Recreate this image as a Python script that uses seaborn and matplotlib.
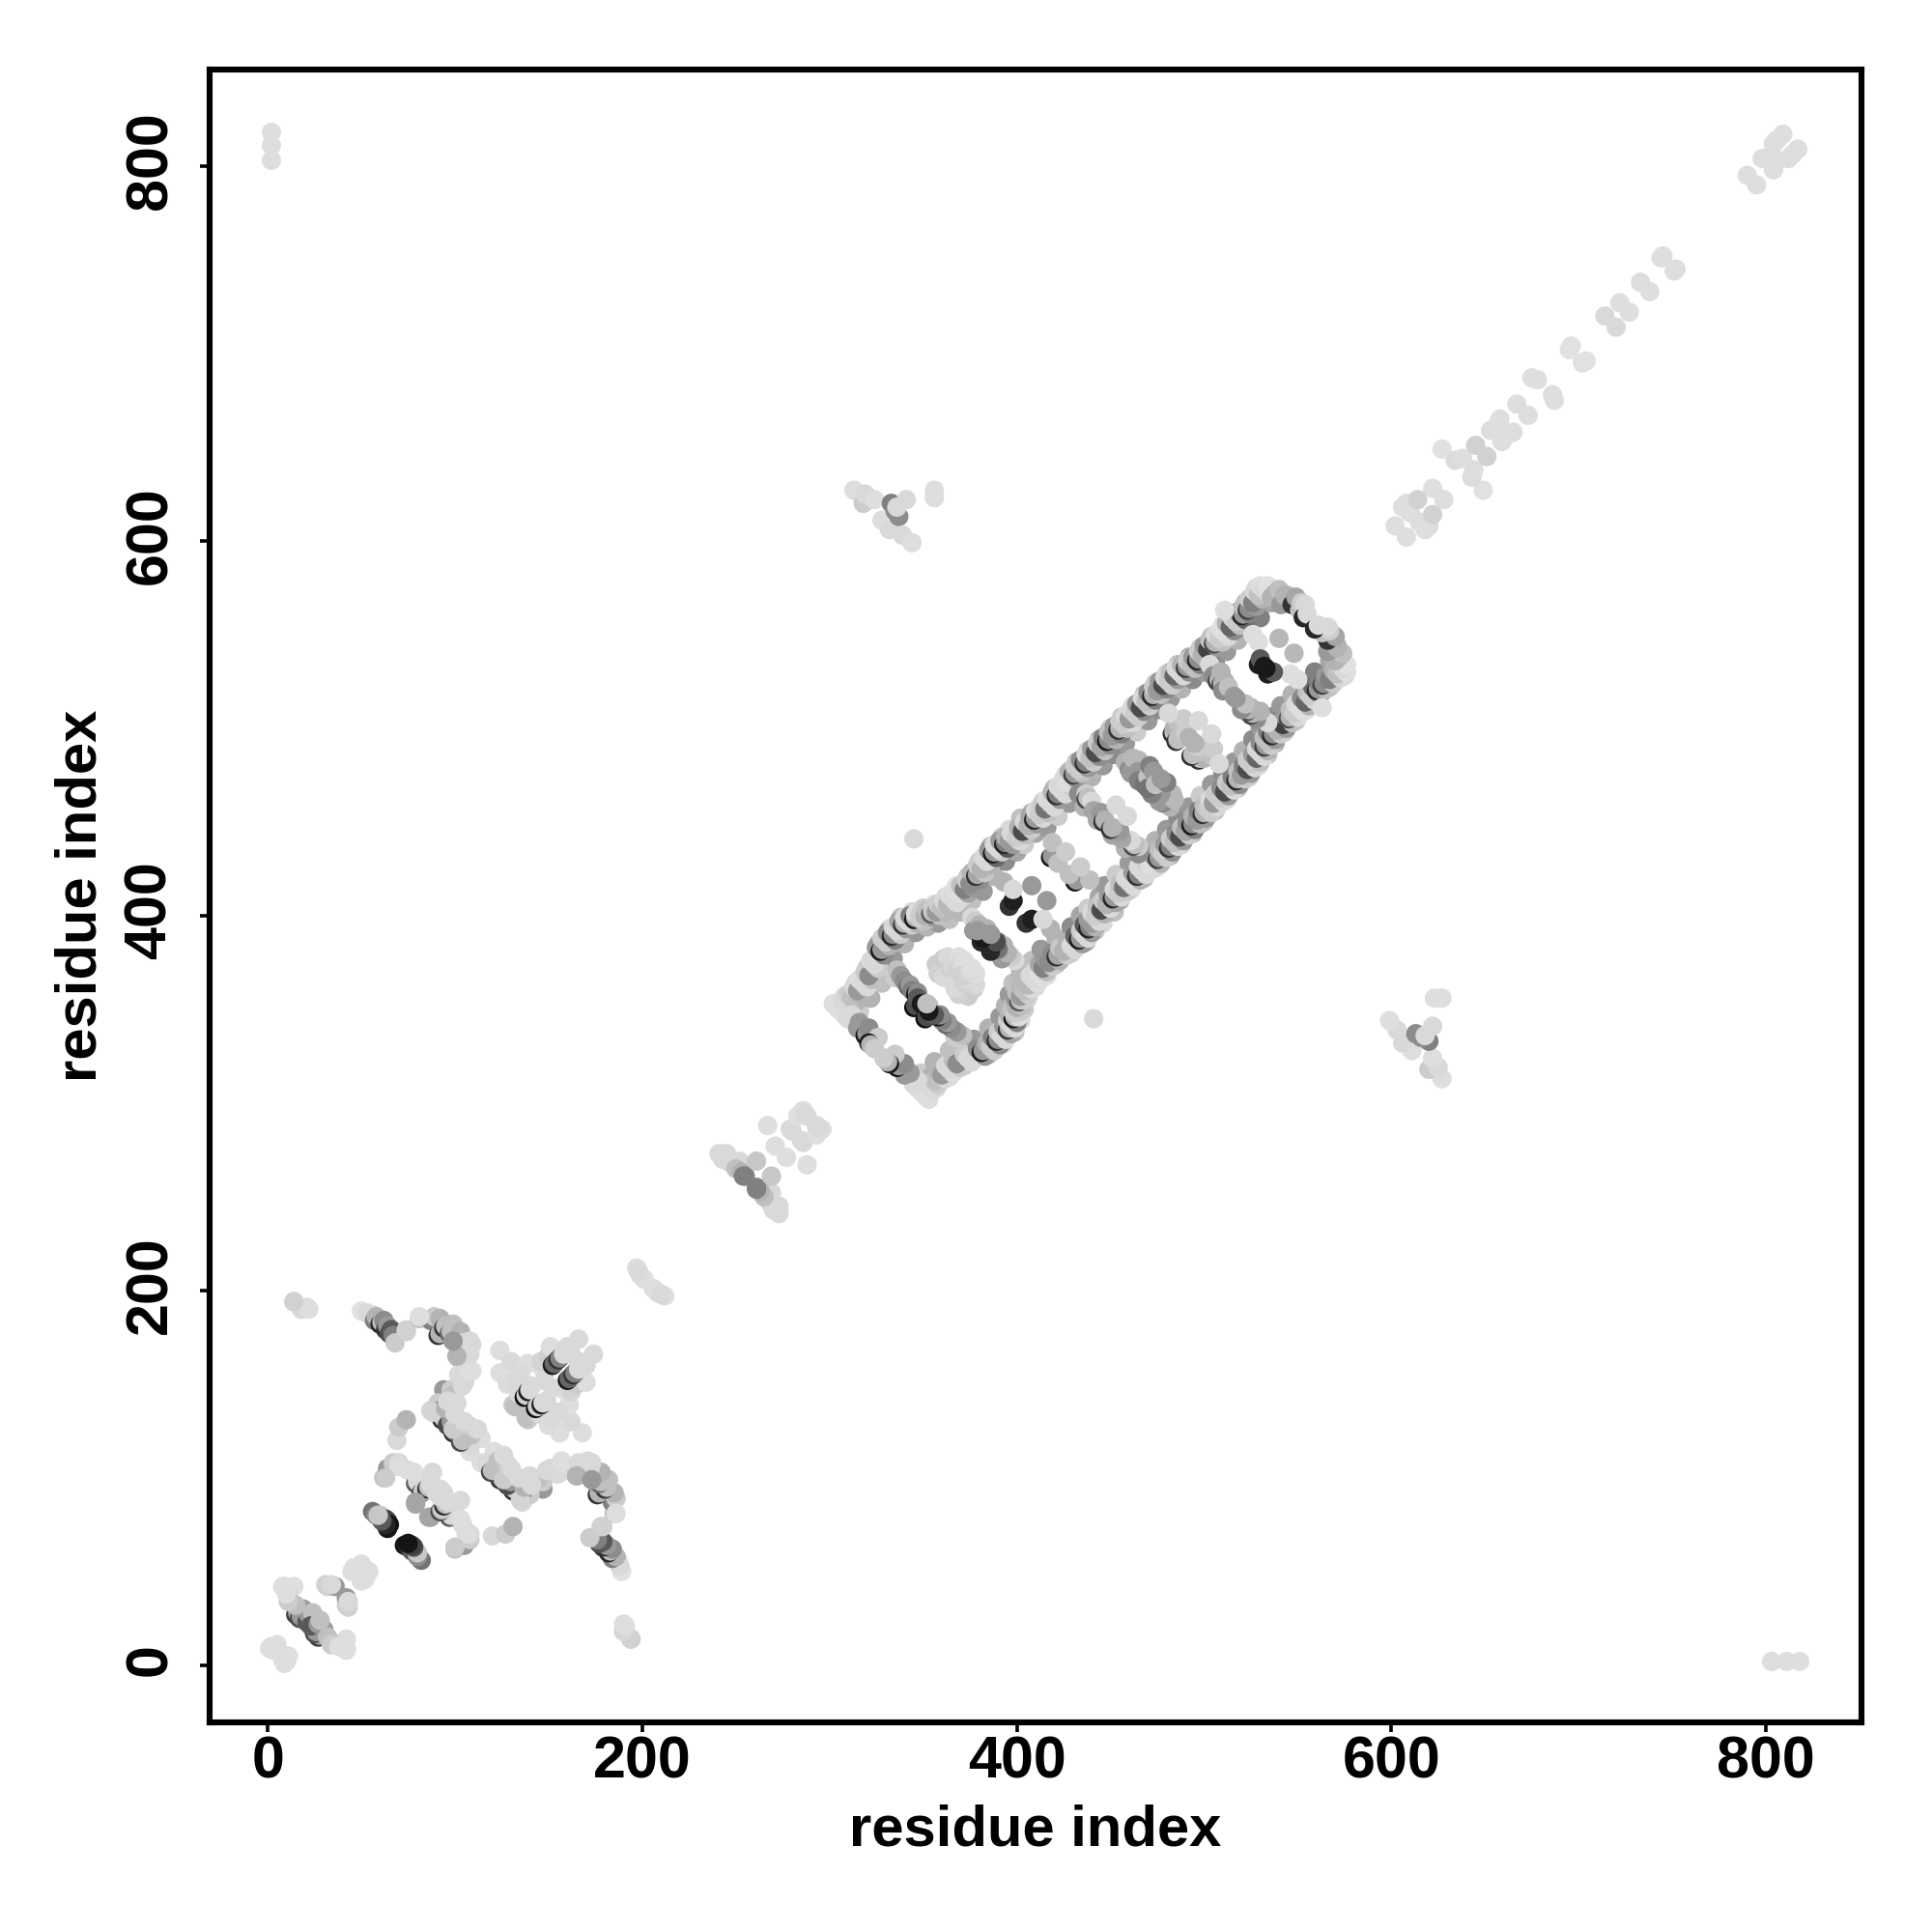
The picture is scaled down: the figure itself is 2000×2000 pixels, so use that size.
import matplotlib
matplotlib.use("Agg")

import pandas as pd
import matplotlib.pyplot as plt
import seaborn as sns
from matplotlib.transforms import ScaledTranslation

# =====================
# CONTACTS (residue i, residue j, grey level) - map is symmetric, i < j only
# =====================
corner = [(2, 803, .87), (2, 811, .87), (2, 818, .87)]

start_hairpin = [
    (14, 194, .82), (18, 190, .84), (21, 191, .87), (190, 22, .87), (194, 14, .82),
    (2, 10, .87), (5, 11, .87), (1, 9, .87), (3, 8, .87),
    (8, 42, .87), (14, 42, .87), (11, 38, .85), (12, 34, .8), (15, 27, .25), (16, 28, .6),
    (17, 25, .3), (18, 26, .6), (19, 30, .62), (21, 23, .35), (22, 27, .6), (24, 28, .75),
    (15, 32, .75), (11, 34, .8), (10, 38, .87), (9, 42, .87),
    (31, 43, .82), (32, 42, .82), (36, 42, .6), (34, 43, .85),
    (45, 50, .87), (46, 52, .87), (50, 54, .87),
]

dark_patch = [
    (56, 82, .45), (58, 80, .55), (60, 80, .78), (63, 78, .3), (64, 77, .25), (65, 75, .08),
    (73, 64, .08), (75, 63, .15), (77, 61, .35), (80, 59, .78),
]

chain_a = [
    (50, 189, .88), (53, 188, .85), (56, 187, .85), (57, 184, .5), (58, 186, .7),
    (60, 182, .15), (61, 183, .75), (62, 184, .55), (63, 179, .2), (64, 181, .6),
    (65, 177, .3), (66, 179, .35), (67, 176, .5), (68, 172, .8), (74, 179, .82),
]

chain_b = [
    (81, 185, .75), (87, 184, .5), (89, 186, .8), (91, 176, .2), (92, 177, .7),
    (92, 185, .7), (94, 180, .2), (95, 181, .75), (97, 177, .4), (98, 178, .75),
    (99, 182, .75), (103, 178, .7), (102, 164, .75), (106, 168, .8),
    (104, 172, .85), (109, 171, .85), (109, 157, .87), (105, 151, .83), (94, 147, .6), (98, 147, .8),
    (102, 155, .85), (87, 136, .85), (91, 140, .8), (90, 135, .2), (91, 136, .75), (94, 137, .5),
    (93, 131, .2), (94, 132, .8), (96, 128, .3), (98, 130, .6),
    (99, 124, .2), (100, 125, .6), (103, 125, .5), (108, 125, .7), (114, 121, .87), (108, 114, .87),
    (108, 117, .85), (109, 123, .75), (103, 119, .3), (104, 120, .75), (107, 128, .8), (99, 126, .8),
    (88, 135, .83), (95, 137, .7), (99, 144, .75), (101, 140, .85), (104, 149, .85),
    (108, 157, .87), (108, 166, .85), (108, 173, .85), (101, 165, .7), (99, 173, .6),
    (96, 141, .85), (100, 134, .85), (105, 130, .85), (112, 126, .85),
    (81, 186, .87), (74, 178, .82),
]

chain_c = [
    (62, 100, .75), (64, 105, .6), (67, 108, .8), (70, 108, .85), (75, 104, .85), (77, 103, .87),
    (79, 86, .65), (79, 97, .35), (80, 98, .85), (82, 92, .3), (83, 93, .8), (85, 94, .2),
    (86, 95, .75), (87, 96, .82), (87, 79, .65), (87, 97, .85), (88, 103, .85), (78, 103, .87),
    (70, 106, .87), (63, 100, .8), (90, 92, .85), (92, 94, .85),
    (69, 120, .85), (70, 127, .8), (74, 131, .7),
]

top_patch = [
    (124, 168, .87), (124, 156, .87), (130, 162, .85), (139, 161, .87), (128, 150, .86),
    (131, 139, .8), (132, 138, .75), (135, 155, .85), (132, 152, .85), (134, 145, .85),
    (137, 143, .05), (138, 144, .82), (139, 146, .1), (140, 147, .85), (141, 149, .85),
    (147, 158, .87), (146, 162, .83), (150, 165, .8), (151, 170, .87), (148, 152, .85),
    (152, 160, .1), (153, 161, .4), (155, 163, .2), (156, 164, .5), (158, 166, .85),
    (162, 166, .85), (160, 170, .85), (166, 174, .85),
]

link_200 = [
    (197, 212, .87), (199, 208, .87), (201, 206, .87), (198, 210, .85),
    (241, 273, .85), (245, 273, .85), (243, 270, .85), (247, 268, .85), (252, 269, .85),
    (250, 265, .75), (253, 263, .7), (254, 261, .5), (255, 261, .5), (261, 269, .78),
    (267, 288, .87), (271, 277, .87), (279, 286, .85), (280, 285, .85), (283, 293, .87),
    (286, 296, .87), (287, 294, .85), (288, 293, .85),
]

# light points sitting on both edges of the long rails
rail_edges = [
    (302, 353, .87), (310, 345, .85), (308, 357, .85), (316, 349, .8), (314, 364, .85), (322, 356, .7),
    (320, 372, .8), (328, 364, .75), (326, 385, .7), (334, 377, .6), (332, 393, .85), (340, 385, .7),
    (338, 399, .75), (346, 391, .6), (344, 402, .85), (352, 394, .7), (350, 404, .8), (358, 396, .6),
    (356, 406, .85), (364, 398, .75), (362, 410, .85), (370, 402, .72), (368, 416, .87), (376, 408, .75),
    (374, 421, .75), (382, 413, .6), (380, 429, .8), (388, 421, .7), (386, 437, .7), (394, 429, .55),
    (392, 442, .8), (400, 434, .65),
    (396, 446, .85), (404, 438, .8), (402, 452, .75), (410, 444, .65), (408, 455, .7), (416, 447, .6),
    (414, 461, .85), (422, 453, .8), (420, 468, .75), (428, 460, .6), (426, 475, .85), (434, 467, .7),
    (432, 482, .7), (440, 474, .7), (438, 488, .8), (446, 480, .6), (444, 494, .7), (452, 486, .55),
    (450, 500, .8), (458, 492, .6), (456, 506, .75), (464, 498, .8), (462, 512, .85), (470, 504, .6),
    (468, 518, .75), (476, 510, .55), (474, 524, .8), (482, 516, .6), (480, 529, .85), (488, 521, .7),
    (486, 534, .75), (494, 526, .55), (492, 538, .7), (500, 530, .6), (498, 543, .8), (506, 535, .55),
    (504, 549, .75), (512, 541, .6), (510, 555, .87), (518, 547, .7), (516, 561, .8), (524, 553, .5),
    (522, 567, .75), (530, 559, .5), (528, 575, .85), (536, 567, .65),
]

rail_lower = [
    (304, 351, .87), (308, 347, .85), (306, 349, .87),
    (307, 355, .85), (311, 351, .85), (309, 353, .85),
    (310, 358, .8), (314, 354, .7), (312, 356, .75),
    (313, 362, .85), (317, 358, .7), (315, 360, .6),
    (316, 366, .87), (320, 362, .85), (318, 364, .85),
    (319, 370, .8), (323, 366, .75), (321, 368, .55),
    (322, 376, .85), (326, 372, .8), (324, 374, .85),
    (325, 383, .6), (329, 379, .55), (327, 381, .1), (328, 382, .6),
    (328, 388, .8), (332, 384, .7), (330, 386, .8),
    (331, 391, .55), (335, 387, .5), (333, 389, .15), (334, 390, .55),
    (334, 394, .85), (338, 390, .8), (336, 392, .85),
    (337, 397, .65), (341, 393, .6), (339, 395, .2), (340, 396, .7),
    (340, 399, .85), (344, 395, .8), (342, 397, .85),
    (343, 400, .5), (347, 396, .7), (345, 398, .1), (346, 399, .7),
    (346, 401, .87), (350, 397, .75), (348, 399, .8),
    (349, 402, .8), (353, 398, .75), (351, 400, .7),
    (352, 403, .75), (356, 399, .6), (354, 401, .35), (355, 402, .75),
    (355, 404, .8), (359, 400, .75), (357, 402, .6),
    (358, 406, .8), (362, 402, .72), (360, 404, .75),
    (361, 408, .85), (365, 404, .72), (363, 406, .72),
    (364, 411, .87), (368, 407, .85), (366, 409, .85),
    (367, 414, .87), (371, 410, .85), (369, 412, .87),
    (370, 416, .75), (374, 412, .65), (372, 414, .5),
    (373, 419, .8), (377, 415, .6), (375, 417, .55),
    (376, 423, .7), (380, 419, .55), (378, 421, .2), (379, 422, .65),
    (379, 427, .8), (383, 423, .78), (381, 425, .7),
    (382, 431, .85), (386, 427, .7), (384, 429, .85),
    (385, 435, .6), (389, 431, .4), (387, 433, .1), (388, 434, .6),
    (388, 438, .85), (392, 434, .8), (390, 436, .85),
    (391, 440, .6), (395, 436, .35), (393, 438, .15), (394, 439, .5),
    (394, 442, .7), (398, 438, .6), (396, 440, .6),
    (397, 444, .85), (401, 440, .75), (399, 442, .75),
]

rungs_lower = [
    (310, 345, .85), (312, 347, .85), (315, 340, .6), (316, 343, .6), (319, 336, .1), (320, 337, .6),
    (321, 340, .55), (326, 335, .8), (321, 332, .1), (322, 331, .7), (324, 329, .8),
    (335, 367, .8), (336, 371, .75), (338, 368, .6), (340, 365, .55), (342, 362, .4), (343, 363, .6),
    (344, 360, .5), (345, 351, .05), (346, 352, .3), (346, 358, .1), (347, 359, .55), (347, 356, .35),
    (349, 353, .1), (353, 352, .75),
    (357, 374, .8), (358, 369, .82), (361, 377, .8), (361, 367, .85), (363, 378, .85), (364, 372, .82),
    (366, 373, .85), (368, 371, .82), (369, 378, .87), (370, 375, .85), (372, 376, .87),
    (376, 399, .85), (378, 397, .8), (377, 392, .6), (380, 395, .7), (384, 393, .7), (382, 390, .45),
    (381, 386, .15), (386, 389, .3), (388, 382, .1), (390, 386, .6),
    (392, 379, .6), (345, 441, .85),
    (393, 418, .7), (396, 405, .2), (398, 408, .12), (398, 414, .85), (408, 416, .6),
    (418, 431, .1), (419, 432, .6), (419, 439, .75), (422, 428, .75), (426, 434, .8),
]

rail_upper = [
    (398, 444, .85), (402, 440, .85), (400, 442, .8),
    (401, 447, .7), (405, 443, .75), (403, 445, .3),
    (404, 450, .85), (408, 446, .8), (406, 448, .7),
    (407, 453, .65), (411, 449, .6), (409, 451, .15), (410, 452, .6),
    (410, 456, .85), (414, 452, .85), (412, 454, .8),
    (413, 459, .8), (417, 455, .75), (415, 457, .45),
    (416, 462, .87), (420, 458, .85), (418, 460, .85),
    (419, 466, .7), (423, 462, .6), (421, 464, .2), (422, 465, .5),
    (422, 469, .85), (426, 465, .85), (424, 467, .85),
    (425, 473, .85), (429, 469, .8), (427, 471, .87),
    (428, 477, .7), (432, 473, .6), (430, 475, .25), (431, 476, .6),
    (431, 480, .8), (435, 476, .75), (433, 478, .8),
    (434, 483, .55), (438, 479, .6), (436, 481, .2), (437, 482, .5),
    (437, 486, .85), (441, 482, .8), (439, 484, .75),
    (440, 489, .6), (444, 485, .55), (442, 487, .3),
    (443, 492, .8), (447, 488, .75), (445, 490, .65),
    (446, 495, .5), (450, 491, .55), (448, 493, .1), (449, 494, .55),
    (449, 498, .75), (453, 494, .7), (451, 496, .6),
    (452, 501, .6), (456, 497, .5), (454, 499, .2), (455, 500, .7),
    (455, 504, .8), (459, 500, .75), (457, 502, .8),
    (458, 507, .85), (462, 503, .85), (460, 505, .6),
    (461, 510, .85), (465, 506, .8), (463, 508, .8),
    (464, 513, .6), (468, 509, .55), (466, 511, .3),
    (467, 516, .85), (471, 512, .8), (469, 514, .75),
    (470, 519, .55), (474, 515, .5), (472, 517, .15), (473, 518, .7),
    (473, 522, .8), (477, 518, .75), (475, 520, .6),
    (476, 525, .6), (480, 521, .5), (478, 523, .3),
    (479, 527, .85), (483, 523, .8), (481, 525, .8),
    (482, 530, .75), (486, 526, .6), (484, 528, .4),
    (485, 532, .85), (489, 528, .85), (487, 530, .85),
    (488, 534, .7), (492, 530, .55), (490, 532, .25), (491, 533, .6),
    (491, 536, .8), (495, 532, .75), (493, 534, .75),
    (494, 538, .6), (498, 534, .5), (496, 536, .15), (497, 537, .55),
    (497, 541, .8), (501, 537, .7), (499, 539, .7),
    (500, 544, .6), (504, 540, .5), (502, 542, .25),
    (503, 547, .75), (507, 543, .6), (505, 545, .3), (506, 546, .7),
    (506, 550, .85), (510, 546, .75), (508, 548, .8),
    (509, 553, .87), (513, 549, .85), (511, 551, .87),
    (512, 556, .7), (516, 552, .55), (514, 554, .4),
    (515, 559, .85), (519, 555, .75), (517, 557, .8),
    (518, 562, .6), (522, 558, .4), (520, 560, .15), (521, 561, .6),
    (521, 565, .75), (525, 561, .5), (523, 563, .25), (524, 564, .55),
    (524, 569, .8), (528, 565, .6), (526, 567, .5),
    (527, 573, .85), (531, 569, .7), (529, 571, .75),
    (530, 576, .87), (534, 572, .8), (532, 574, .85),
    (511, 563, .87), (534, 576, .88), (536, 570, .7), (538, 572, .7), (540, 574, .75),
    (541, 566, .6), (543, 571, .7), (544, 571, .7), (547, 566, .2), (549, 570, .65),
    (551, 563, .75), (552, 567, .8), (554, 566, .85), (553, 559, .15), (555, 561, .85),
]

rungs_upper = [
    (433, 465, .55), (437, 465, .8), (436, 458, .7), (437, 462, .3), (438, 463, .75), (440, 461, .85),
    (441, 456, .65), (443, 451, .65), (445, 455, .6), (446, 450, .2), (447, 451, .7), (453, 459, .85),
    (458, 482, .7), (460, 478, .55), (461, 476, .6), (462, 484, .72), (465, 483, .72), (465, 477, .6),
    (465, 472, .5), (468, 470, .45), (470, 474, .75), (471, 480, .5), (473, 477, .6),
    (483, 497, .2), (484, 498, .8), (484, 500, .7), (485, 493, .2), (486, 494, .75), (487, 496, .75),
    (486, 503, .75), (489, 505, .8), (490, 497, .8), (492, 495, .7), (481, 508, .85), (497, 504, .85),
    (503, 534, .85), (505, 531, .85), (505, 528, .55), (507, 525, .25), (508, 526, .7), (509, 530, .7),
    (509, 523, .3), (510, 524, .7), (511, 525, .7), (510, 520, .55), (513, 522, .75), (516, 517, .6),
    (526, 550, .87), (529, 546, .87), (529, 534, .12), (530, 537, .35), (532, 533, .1),
    (540, 548, .72),
]

far_contacts = [
    (313, 627, .87), (318, 620, .8), (319, 625, .85), (324, 622, .87), (328, 611, .87),
    (332, 606, .85), (333, 620, .5), (335, 616, .55), (337, 613, .55), (339, 603, .85),
    (336, 618, .85), (341, 622, .85), (344, 599, .87), (356, 627, .87), (356, 623, .87),
]

c_term = [
    (602, 608, .87), (606, 618, .87), (608, 620, .87), (610, 615, .87), (614, 622, .82),
    (622, 628, .87), (627, 649, .88), (634, 643, .86), (638, 644, .87), (645, 651, .82),
    (653, 659, .87), (656, 661, .87), (658, 665, .87), (667, 673, .87), (675, 687, .87),
    (678, 686, .87), (695, 702, .88), (696, 704, .88), (714, 720, .85), (722, 727, .87),
    (733, 738, .87), (744, 751, .87), (745, 752, .87), (790, 795, .87), (798, 804, .87),
    (803, 806, .87), (804, 812, .87), (806, 814, .87), (809, 817, .87),
]

groups = [
    corner, start_hairpin, dark_patch, chain_a, chain_b, chain_c, top_patch, link_200,
    rail_edges, rail_lower, rungs_lower, rail_upper, rungs_upper, far_contacts, c_term,
]

rows = [c for group in groups for c in group]
contacts = pd.DataFrame(rows, columns=["i", "j", "shade"])
mirror = contacts.rename(columns={"i": "j", "j": "i"})
df = pd.concat([contacts, mirror], ignore_index=True)

tick_values = [0, 200, 400, 600, 800]

# =====================
# PLOT
# =====================
sns.set_theme(style="ticks")
plt.rcParams["font.family"] = ["Liberation Sans", "DejaVu Sans"]

fig = plt.figure(figsize=(10, 10), dpi=200)
ax = fig.add_axes([0.1085, 0.1085, 0.855, 0.8555])

sns.scatterplot(
    data=df,
    x="i",
    y="j",
    hue="shade",
    palette="gray",
    hue_norm=(0, 1),
    s=52,
    linewidth=0,
    legend=False,
    ax=ax
)

ax.set_xlim(-31, 851)
ax.set_ylim(-30.5, 851.5)
ax.set_xticks(tick_values)
ax.set_yticks(tick_values)
ax.tick_params(axis="both", length=3.5, width=1.3, color="black", labelcolor="black", labelsize=22)
ax.tick_params(axis="x", pad=1.5)
ax.tick_params(axis="y", pad=8)
for label in ax.get_xticklabels():
    label.set_fontweight("bold")
for label in ax.get_yticklabels():
    label.set_fontweight("bold")
    label.set_rotation(90)
    label.set_va("center")
    label.set_transform(label.get_transform() + ScaledTranslation(0, 2 / 72, fig.dpi_scale_trans))

for spine in ax.spines.values():
    spine.set_visible(True)
    spine.set_linewidth(2.2)
    spine.set_color("black")

ax.set_xlabel("residue index", fontsize=21.5, fontweight="bold", labelpad=5, color="black")
ax.set_ylabel("residue index", fontsize=21.5, fontweight="bold", labelpad=6, color="black")

fig.savefig("out.png", dpi=200)
plt.close(fig)
